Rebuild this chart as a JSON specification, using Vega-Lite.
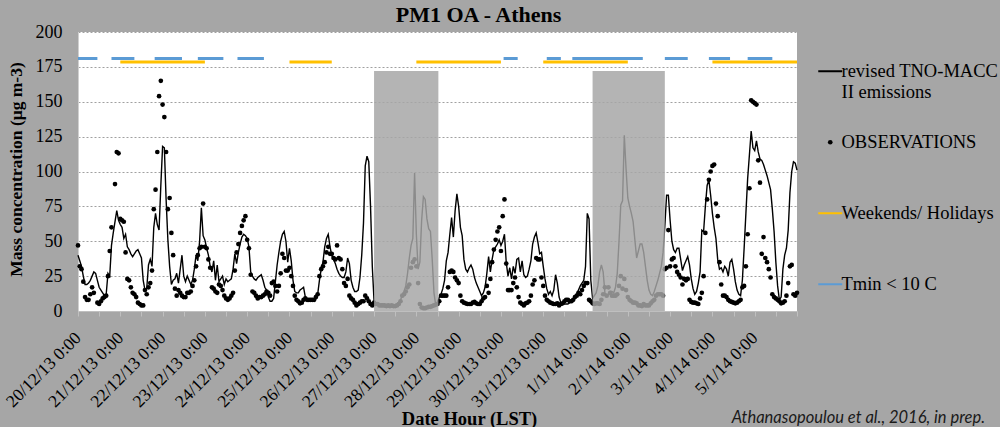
{
"$schema":"https://vega.github.io/schema/vega-lite/v6.json",
"width":719,"height":279,
"autosize":{"type":"none"},
"padding":{"left":78,"top":32,"right":203,"bottom":116},
"background":"#a6a6a6",
"title":{"text":"PM1 OA - Athens","font":"Liberation Serif","fontSize":22,"fontWeight":"bold","color":"black","anchor":"middle","dx":41,"offset":-4},
"datasets":{
"model":[
{"t":"2013-12-20T00:00","v":40},{"t":"2013-12-20T01:00","v":36},{"t":"2013-12-20T02:00","v":32},{"t":"2013-12-20T03:00","v":25},{"t":"2013-12-20T04:00","v":19},{"t":"2013-12-20T05:00","v":19},{"t":"2013-12-20T06:00","v":20},{"t":"2013-12-20T07:00","v":22},{"t":"2013-12-20T08:00","v":25},{"t":"2013-12-20T09:00","v":28},{"t":"2013-12-20T10:00","v":27},{"t":"2013-12-20T11:00","v":22},{"t":"2013-12-20T12:00","v":17},{"t":"2013-12-20T13:00","v":15},{"t":"2013-12-20T14:00","v":13},{"t":"2013-12-20T15:00","v":11},{"t":"2013-12-20T16:00","v":12},{"t":"2013-12-20T17:00","v":27},{"t":"2013-12-20T18:00","v":25},{"t":"2013-12-20T19:00","v":47},{"t":"2013-12-20T20:00","v":56},{"t":"2013-12-20T21:00","v":64},{"t":"2013-12-20T22:00","v":72},{"t":"2013-12-20T23:00","v":65},
{"t":"2013-12-21T00:00","v":62},{"t":"2013-12-21T01:00","v":60},{"t":"2013-12-21T02:00","v":52},{"t":"2013-12-21T03:00","v":55},{"t":"2013-12-21T04:00","v":46},{"t":"2013-12-21T05:00","v":44},{"t":"2013-12-21T06:00","v":41},{"t":"2013-12-21T07:00","v":39},{"t":"2013-12-21T08:00","v":41},{"t":"2013-12-21T09:00","v":43},{"t":"2013-12-21T10:00","v":44},{"t":"2013-12-21T11:00","v":41},{"t":"2013-12-21T12:00","v":38},{"t":"2013-12-21T13:00","v":22},{"t":"2013-12-21T14:00","v":15},{"t":"2013-12-21T15:00","v":16},{"t":"2013-12-21T16:00","v":33},{"t":"2013-12-21T17:00","v":37},{"t":"2013-12-21T18:00","v":32},{"t":"2013-12-21T19:00","v":60},{"t":"2013-12-21T20:00","v":70},{"t":"2013-12-21T21:00","v":62},{"t":"2013-12-21T22:00","v":58},{"t":"2013-12-21T23:00","v":90},
{"t":"2013-12-22T00:00","v":118},{"t":"2013-12-22T01:00","v":117},{"t":"2013-12-22T02:00","v":80},{"t":"2013-12-22T03:00","v":51},{"t":"2013-12-22T04:00","v":32},{"t":"2013-12-22T05:00","v":19},{"t":"2013-12-22T06:00","v":22},{"t":"2013-12-22T07:00","v":23},{"t":"2013-12-22T08:00","v":27},{"t":"2013-12-22T09:00","v":20},{"t":"2013-12-22T10:00","v":30},{"t":"2013-12-22T11:00","v":40},{"t":"2013-12-22T12:00","v":25},{"t":"2013-12-22T13:00","v":21},{"t":"2013-12-22T14:00","v":25},{"t":"2013-12-22T15:00","v":22},{"t":"2013-12-22T16:00","v":19},{"t":"2013-12-22T17:00","v":22},{"t":"2013-12-22T18:00","v":30},{"t":"2013-12-22T19:00","v":40},{"t":"2013-12-22T20:00","v":36},{"t":"2013-12-22T21:00","v":50},{"t":"2013-12-22T22:00","v":74},{"t":"2013-12-22T23:00","v":54},
{"t":"2013-12-23T00:00","v":51},{"t":"2013-12-23T01:00","v":45},{"t":"2013-12-23T02:00","v":40},{"t":"2013-12-23T03:00","v":32},{"t":"2013-12-23T04:00","v":28},{"t":"2013-12-23T05:00","v":36},{"t":"2013-12-23T06:00","v":22},{"t":"2013-12-23T07:00","v":33},{"t":"2013-12-23T08:00","v":21},{"t":"2013-12-23T09:00","v":23},{"t":"2013-12-23T10:00","v":25},{"t":"2013-12-23T11:00","v":19},{"t":"2013-12-23T12:00","v":23},{"t":"2013-12-23T13:00","v":21},{"t":"2013-12-23T14:00","v":22},{"t":"2013-12-23T15:00","v":23},{"t":"2013-12-23T16:00","v":30},{"t":"2013-12-23T17:00","v":41},{"t":"2013-12-23T18:00","v":34},{"t":"2013-12-23T19:00","v":42},{"t":"2013-12-23T20:00","v":48},{"t":"2013-12-23T21:00","v":53},{"t":"2013-12-23T22:00","v":55},{"t":"2013-12-23T23:00","v":54},
{"t":"2013-12-24T00:00","v":52},{"t":"2013-12-24T01:00","v":46},{"t":"2013-12-24T02:00","v":28},{"t":"2013-12-24T03:00","v":25},{"t":"2013-12-24T04:00","v":23},{"t":"2013-12-24T05:00","v":22},{"t":"2013-12-24T06:00","v":24},{"t":"2013-12-24T07:00","v":25},{"t":"2013-12-24T08:00","v":26},{"t":"2013-12-24T09:00","v":22},{"t":"2013-12-24T10:00","v":17},{"t":"2013-12-24T11:00","v":15},{"t":"2013-12-24T12:00","v":10},{"t":"2013-12-24T13:00","v":7},{"t":"2013-12-24T14:00","v":7},{"t":"2013-12-24T15:00","v":9},{"t":"2013-12-24T16:00","v":21},{"t":"2013-12-24T17:00","v":33},{"t":"2013-12-24T18:00","v":42},{"t":"2013-12-24T19:00","v":50},{"t":"2013-12-24T20:00","v":55},{"t":"2013-12-24T21:00","v":57},{"t":"2013-12-24T22:00","v":50},{"t":"2013-12-24T23:00","v":35},
{"t":"2013-12-25T00:00","v":45},{"t":"2013-12-25T01:00","v":36},{"t":"2013-12-25T02:00","v":22},{"t":"2013-12-25T03:00","v":14},{"t":"2013-12-25T04:00","v":13},{"t":"2013-12-25T05:00","v":13},{"t":"2013-12-25T06:00","v":15},{"t":"2013-12-25T07:00","v":16},{"t":"2013-12-25T08:00","v":17},{"t":"2013-12-25T09:00","v":10},{"t":"2013-12-25T10:00","v":9},{"t":"2013-12-25T11:00","v":8},{"t":"2013-12-25T12:00","v":7},{"t":"2013-12-25T13:00","v":7},{"t":"2013-12-25T14:00","v":7},{"t":"2013-12-25T15:00","v":9},{"t":"2013-12-25T16:00","v":12},{"t":"2013-12-25T17:00","v":22},{"t":"2013-12-25T18:00","v":30},{"t":"2013-12-25T19:00","v":35},{"t":"2013-12-25T20:00","v":46},{"t":"2013-12-25T21:00","v":52},{"t":"2013-12-25T22:00","v":55},{"t":"2013-12-25T23:00","v":46},
{"t":"2013-12-26T00:00","v":40},{"t":"2013-12-26T01:00","v":37},{"t":"2013-12-26T02:00","v":34},{"t":"2013-12-26T03:00","v":30},{"t":"2013-12-26T04:00","v":27},{"t":"2013-12-26T05:00","v":25},{"t":"2013-12-26T06:00","v":24},{"t":"2013-12-26T07:00","v":24},{"t":"2013-12-26T08:00","v":28},{"t":"2013-12-26T09:00","v":38},{"t":"2013-12-26T10:00","v":34},{"t":"2013-12-26T11:00","v":22},{"t":"2013-12-26T12:00","v":17},{"t":"2013-12-26T13:00","v":14},{"t":"2013-12-26T14:00","v":14},{"t":"2013-12-26T15:00","v":15},{"t":"2013-12-26T16:00","v":24},{"t":"2013-12-26T17:00","v":40},{"t":"2013-12-26T18:00","v":63},{"t":"2013-12-26T19:00","v":104},{"t":"2013-12-26T20:00","v":111},{"t":"2013-12-26T21:00","v":107},{"t":"2013-12-26T22:00","v":75},{"t":"2013-12-26T23:00","v":32},
{"t":"2013-12-27T00:00","v":7},{"t":"2013-12-27T01:00","v":5},{"t":"2013-12-27T02:00","v":4},{"t":"2013-12-27T04:00","v":4},{"t":"2013-12-27T06:00","v":3},{"t":"2013-12-27T08:00","v":3},{"t":"2013-12-27T10:00","v":3},{"t":"2013-12-27T12:00","v":4},{"t":"2013-12-27T13:00","v":5},{"t":"2013-12-27T14:00","v":6},{"t":"2013-12-27T15:00","v":8},{"t":"2013-12-27T16:00","v":11},{"t":"2013-12-27T17:00","v":14},{"t":"2013-12-27T18:00","v":18},{"t":"2013-12-27T19:00","v":27},{"t":"2013-12-27T20:00","v":38},{"t":"2013-12-27T21:00","v":47},{"t":"2013-12-27T22:00","v":52},{"t":"2013-12-27T23:00","v":99},
{"t":"2013-12-28T00:00","v":55},{"t":"2013-12-28T01:00","v":30},{"t":"2013-12-28T02:00","v":35},{"t":"2013-12-28T03:00","v":65},{"t":"2013-12-28T04:00","v":82},{"t":"2013-12-28T05:00","v":80},{"t":"2013-12-28T06:00","v":66},{"t":"2013-12-28T07:00","v":59},{"t":"2013-12-28T08:00","v":57},{"t":"2013-12-28T09:00","v":37},{"t":"2013-12-28T10:00","v":13},{"t":"2013-12-28T11:00","v":4},{"t":"2013-12-28T12:00","v":4},{"t":"2013-12-28T13:00","v":10},{"t":"2013-12-28T14:00","v":12},{"t":"2013-12-28T15:00","v":16},{"t":"2013-12-28T16:00","v":22},{"t":"2013-12-28T17:00","v":36},{"t":"2013-12-28T18:00","v":42},{"t":"2013-12-28T19:00","v":55},{"t":"2013-12-28T20:00","v":67},{"t":"2013-12-28T21:00","v":53},{"t":"2013-12-28T22:00","v":72},{"t":"2013-12-28T23:00","v":84},
{"t":"2013-12-29T00:00","v":75},{"t":"2013-12-29T01:00","v":60},{"t":"2013-12-29T02:00","v":54},{"t":"2013-12-29T03:00","v":37},{"t":"2013-12-29T04:00","v":30},{"t":"2013-12-29T05:00","v":28},{"t":"2013-12-29T06:00","v":31},{"t":"2013-12-29T07:00","v":33},{"t":"2013-12-29T08:00","v":30},{"t":"2013-12-29T09:00","v":24},{"t":"2013-12-29T10:00","v":20},{"t":"2013-12-29T11:00","v":17},{"t":"2013-12-29T12:00","v":14},{"t":"2013-12-29T13:00","v":11},{"t":"2013-12-29T14:00","v":13},{"t":"2013-12-29T15:00","v":17},{"t":"2013-12-29T16:00","v":27},{"t":"2013-12-29T17:00","v":39},{"t":"2013-12-29T18:00","v":28},{"t":"2013-12-29T19:00","v":37},{"t":"2013-12-29T20:00","v":44},{"t":"2013-12-29T21:00","v":46},{"t":"2013-12-29T22:00","v":48},{"t":"2013-12-29T23:00","v":51},
{"t":"2013-12-30T00:00","v":47},{"t":"2013-12-30T01:00","v":50},{"t":"2013-12-30T02:00","v":55},{"t":"2013-12-30T03:00","v":35},{"t":"2013-12-30T04:00","v":25},{"t":"2013-12-30T05:00","v":31},{"t":"2013-12-30T06:00","v":23},{"t":"2013-12-30T07:00","v":32},{"t":"2013-12-30T08:00","v":27},{"t":"2013-12-30T09:00","v":37},{"t":"2013-12-30T10:00","v":38},{"t":"2013-12-30T11:00","v":28},{"t":"2013-12-30T12:00","v":36},{"t":"2013-12-30T13:00","v":26},{"t":"2013-12-30T14:00","v":24},{"t":"2013-12-30T15:00","v":25},{"t":"2013-12-30T16:00","v":30},{"t":"2013-12-30T17:00","v":36},{"t":"2013-12-30T18:00","v":48},{"t":"2013-12-30T19:00","v":53},{"t":"2013-12-30T20:00","v":56},{"t":"2013-12-30T21:00","v":49},{"t":"2013-12-30T22:00","v":41},{"t":"2013-12-30T23:00","v":42},
{"t":"2013-12-31T00:00","v":32},{"t":"2013-12-31T01:00","v":23},{"t":"2013-12-31T02:00","v":16},{"t":"2013-12-31T03:00","v":12},{"t":"2013-12-31T04:00","v":14},{"t":"2013-12-31T05:00","v":11},{"t":"2013-12-31T06:00","v":15},{"t":"2013-12-31T07:00","v":26},{"t":"2013-12-31T08:00","v":20},{"t":"2013-12-31T09:00","v":10},{"t":"2013-12-31T10:00","v":6},{"t":"2013-12-31T11:00","v":5},{"t":"2013-12-31T12:00","v":5},{"t":"2013-12-31T13:00","v":5},{"t":"2013-12-31T14:00","v":5},{"t":"2013-12-31T15:00","v":6},{"t":"2013-12-31T16:00","v":7},{"t":"2013-12-31T17:00","v":8},{"t":"2013-12-31T18:00","v":10},{"t":"2013-12-31T19:00","v":12},{"t":"2013-12-31T20:00","v":15},{"t":"2013-12-31T21:00","v":18},{"t":"2013-12-31T22:00","v":20},{"t":"2013-12-31T23:00","v":22},
{"t":"2014-01-01T00:00","v":32},{"t":"2014-01-01T01:00","v":70},{"t":"2014-01-01T02:00","v":66},{"t":"2014-01-01T03:00","v":22},{"t":"2014-01-01T04:00","v":9},{"t":"2014-01-01T05:00","v":11},{"t":"2014-01-01T06:00","v":13},{"t":"2014-01-01T07:00","v":18},{"t":"2014-01-01T08:00","v":28},{"t":"2014-01-01T09:00","v":33},{"t":"2014-01-01T10:00","v":28},{"t":"2014-01-01T11:00","v":13},{"t":"2014-01-01T12:00","v":11},{"t":"2014-01-01T13:00","v":12},{"t":"2014-01-01T14:00","v":14},{"t":"2014-01-01T15:00","v":14},{"t":"2014-01-01T16:00","v":13},{"t":"2014-01-01T17:00","v":17},{"t":"2014-01-01T18:00","v":27},{"t":"2014-01-01T19:00","v":50},{"t":"2014-01-01T20:00","v":76},{"t":"2014-01-01T21:00","v":79},{"t":"2014-01-01T22:00","v":126},{"t":"2014-01-01T23:00","v":102},
{"t":"2014-01-02T00:00","v":81},{"t":"2014-01-02T01:00","v":75},{"t":"2014-01-02T02:00","v":70},{"t":"2014-01-02T03:00","v":64},{"t":"2014-01-02T04:00","v":51},{"t":"2014-01-02T05:00","v":38},{"t":"2014-01-02T06:00","v":43},{"t":"2014-01-02T07:00","v":48},{"t":"2014-01-02T08:00","v":48},{"t":"2014-01-02T09:00","v":42},{"t":"2014-01-02T10:00","v":32},{"t":"2014-01-02T11:00","v":22},{"t":"2014-01-02T12:00","v":15},{"t":"2014-01-02T13:00","v":12},{"t":"2014-01-02T14:00","v":11},{"t":"2014-01-02T15:00","v":14},{"t":"2014-01-02T16:00","v":18},{"t":"2014-01-02T17:00","v":22},{"t":"2014-01-02T18:00","v":27},{"t":"2014-01-02T19:00","v":32},{"t":"2014-01-02T20:00","v":42},{"t":"2014-01-02T21:00","v":61},{"t":"2014-01-02T22:00","v":83},{"t":"2014-01-02T23:00","v":83},
{"t":"2014-01-03T00:00","v":65},{"t":"2014-01-03T01:00","v":50},{"t":"2014-01-03T02:00","v":44},{"t":"2014-01-03T03:00","v":42},{"t":"2014-01-03T04:00","v":45},{"t":"2014-01-03T05:00","v":45},{"t":"2014-01-03T06:00","v":37},{"t":"2014-01-03T07:00","v":29},{"t":"2014-01-03T08:00","v":33},{"t":"2014-01-03T09:00","v":36},{"t":"2014-01-03T10:00","v":39},{"t":"2014-01-03T11:00","v":33},{"t":"2014-01-03T12:00","v":23},{"t":"2014-01-03T13:00","v":16},{"t":"2014-01-03T14:00","v":12},{"t":"2014-01-03T15:00","v":14},{"t":"2014-01-03T16:00","v":20},{"t":"2014-01-03T17:00","v":28},{"t":"2014-01-03T18:00","v":58},{"t":"2014-01-03T19:00","v":57},{"t":"2014-01-03T20:00","v":75},{"t":"2014-01-03T21:00","v":90},{"t":"2014-01-03T22:00","v":94},{"t":"2014-01-03T23:00","v":83},
{"t":"2014-01-04T00:00","v":70},{"t":"2014-01-04T01:00","v":60},{"t":"2014-01-04T02:00","v":52},{"t":"2014-01-04T03:00","v":37},{"t":"2014-01-04T04:00","v":30},{"t":"2014-01-04T05:00","v":31},{"t":"2014-01-04T06:00","v":28},{"t":"2014-01-04T07:00","v":32},{"t":"2014-01-04T08:00","v":30},{"t":"2014-01-04T09:00","v":25},{"t":"2014-01-04T10:00","v":35},{"t":"2014-01-04T11:00","v":37},{"t":"2014-01-04T12:00","v":30},{"t":"2014-01-04T13:00","v":21},{"t":"2014-01-04T14:00","v":15},{"t":"2014-01-04T15:00","v":12},{"t":"2014-01-04T16:00","v":11},{"t":"2014-01-04T17:00","v":22},{"t":"2014-01-04T18:00","v":45},{"t":"2014-01-04T19:00","v":70},{"t":"2014-01-04T20:00","v":95},{"t":"2014-01-04T21:00","v":112},{"t":"2014-01-04T22:00","v":129},{"t":"2014-01-04T23:00","v":117},
{"t":"2014-01-05T00:00","v":115},{"t":"2014-01-05T01:00","v":122},{"t":"2014-01-05T02:00","v":114},{"t":"2014-01-05T03:00","v":109},{"t":"2014-01-05T04:00","v":108},{"t":"2014-01-05T05:00","v":105},{"t":"2014-01-05T06:00","v":101},{"t":"2014-01-05T07:00","v":97},{"t":"2014-01-05T08:00","v":92},{"t":"2014-01-05T09:00","v":87},{"t":"2014-01-05T10:00","v":73},{"t":"2014-01-05T11:00","v":57},{"t":"2014-01-05T12:00","v":35},{"t":"2014-01-05T13:00","v":18},{"t":"2014-01-05T14:00","v":8},{"t":"2014-01-05T15:00","v":10},{"t":"2014-01-05T16:00","v":30},{"t":"2014-01-05T17:00","v":40},{"t":"2014-01-05T18:00","v":45},{"t":"2014-01-05T19:00","v":58},{"t":"2014-01-05T20:00","v":85},{"t":"2014-01-05T21:00","v":100},{"t":"2014-01-05T22:00","v":107},{"t":"2014-01-05T23:00","v":106},
{"t":"2014-01-06T00:00","v":101}
],
"obs":[
{"t":"2013-12-20T00:00","v":47},{"t":"2013-12-20T01:00","v":32},{"t":"2013-12-20T02:00","v":30},{"t":"2013-12-20T03:00","v":21},{"t":"2013-12-20T04:00","v":10},{"t":"2013-12-20T05:00","v":8},{"t":"2013-12-20T06:00","v":8},{"t":"2013-12-20T07:00","v":12},{"t":"2013-12-20T08:00","v":17},{"t":"2013-12-20T09:00","v":13},{"t":"2013-12-20T11:00","v":6},{"t":"2013-12-20T12:00","v":5},{"t":"2013-12-20T13:00","v":7},{"t":"2013-12-20T14:00","v":9},{"t":"2013-12-20T15:00","v":10},{"t":"2013-12-20T16:00","v":11},{"t":"2013-12-20T17:00","v":25},{"t":"2013-12-20T18:00","v":43},{"t":"2013-12-20T19:00","v":60},{"t":"2013-12-20T21:00","v":91},{"t":"2013-12-20T22:00","v":114},{"t":"2013-12-20T23:00","v":113},
{"t":"2013-12-21T00:00","v":66},{"t":"2013-12-21T01:00","v":65},{"t":"2013-12-21T02:00","v":64},{"t":"2013-12-21T03:00","v":42},{"t":"2013-12-21T04:00","v":23},{"t":"2013-12-21T05:00","v":22},{"t":"2013-12-21T06:00","v":17},{"t":"2013-12-21T07:00","v":13},{"t":"2013-12-21T08:00","v":12},{"t":"2013-12-21T09:00","v":10},{"t":"2013-12-21T10:00","v":6},{"t":"2013-12-21T11:00","v":5},{"t":"2013-12-21T12:00","v":4},{"t":"2013-12-21T13:00","v":4},{"t":"2013-12-21T14:00","v":15},{"t":"2013-12-21T15:00","v":12},{"t":"2013-12-21T16:00","v":17},{"t":"2013-12-21T17:00","v":20},{"t":"2013-12-21T18:00","v":29},{"t":"2013-12-21T19:00","v":73},{"t":"2013-12-21T20:00","v":87},{"t":"2013-12-21T21:00","v":114},{"t":"2013-12-21T22:00","v":154},{"t":"2013-12-21T23:00","v":165},
{"t":"2013-12-22T00:00","v":148},{"t":"2013-12-22T01:00","v":139},{"t":"2013-12-22T02:00","v":114},{"t":"2013-12-22T03:00","v":73},{"t":"2013-12-22T04:00","v":81},{"t":"2013-12-22T05:00","v":56},{"t":"2013-12-22T06:00","v":40},{"t":"2013-12-22T07:00","v":16},{"t":"2013-12-22T08:00","v":11},{"t":"2013-12-22T09:00","v":15},{"t":"2013-12-22T10:00","v":13},{"t":"2013-12-22T11:00","v":11},{"t":"2013-12-22T12:00","v":10},{"t":"2013-12-22T13:00","v":10},{"t":"2013-12-22T14:00","v":13},{"t":"2013-12-22T15:00","v":13},{"t":"2013-12-22T16:00","v":14},{"t":"2013-12-22T17:00","v":18},{"t":"2013-12-22T18:00","v":22},{"t":"2013-12-22T19:00","v":32},{"t":"2013-12-22T20:00","v":40},{"t":"2013-12-22T21:00","v":45},{"t":"2013-12-22T22:00","v":46},{"t":"2013-12-22T23:00","v":77},
{"t":"2013-12-23T00:00","v":46},{"t":"2013-12-23T01:00","v":45},{"t":"2013-12-23T02:00","v":37},{"t":"2013-12-23T03:00","v":31},{"t":"2013-12-23T04:00","v":17},{"t":"2013-12-23T05:00","v":16},{"t":"2013-12-23T06:00","v":14},{"t":"2013-12-23T07:00","v":13},{"t":"2013-12-23T08:00","v":19},{"t":"2013-12-23T09:00","v":18},{"t":"2013-12-23T10:00","v":15},{"t":"2013-12-23T11:00","v":11},{"t":"2013-12-23T12:00","v":9},{"t":"2013-12-23T13:00","v":8},{"t":"2013-12-23T14:00","v":9},{"t":"2013-12-23T15:00","v":11},{"t":"2013-12-23T16:00","v":13},{"t":"2013-12-23T17:00","v":29},{"t":"2013-12-23T18:00","v":42},{"t":"2013-12-23T19:00","v":48},{"t":"2013-12-23T20:00","v":56},{"t":"2013-12-23T21:00","v":61},{"t":"2013-12-23T22:00","v":65},{"t":"2013-12-23T23:00","v":68},
{"t":"2013-12-24T00:00","v":51},{"t":"2013-12-24T01:00","v":45},{"t":"2013-12-24T02:00","v":26},{"t":"2013-12-24T03:00","v":14},{"t":"2013-12-24T04:00","v":13},{"t":"2013-12-24T05:00","v":11},{"t":"2013-12-24T06:00","v":9},{"t":"2013-12-24T07:00","v":10},{"t":"2013-12-24T08:00","v":10},{"t":"2013-12-24T09:00","v":11},{"t":"2013-12-24T10:00","v":12},{"t":"2013-12-24T11:00","v":14},{"t":"2013-12-24T12:00","v":13},{"t":"2013-12-24T13:00","v":11},{"t":"2013-12-24T14:00","v":20},{"t":"2013-12-24T15:00","v":21},{"t":"2013-12-24T16:00","v":18},{"t":"2013-12-24T17:00","v":14},{"t":"2013-12-24T18:00","v":18},{"t":"2013-12-24T19:00","v":27},{"t":"2013-12-24T20:00","v":41},{"t":"2013-12-24T21:00","v":38},{"t":"2013-12-24T22:00","v":29},{"t":"2013-12-24T23:00","v":29},
{"t":"2013-12-25T00:00","v":31},{"t":"2013-12-25T01:00","v":25},{"t":"2013-12-25T02:00","v":18},{"t":"2013-12-25T03:00","v":11},{"t":"2013-12-25T04:00","v":8},{"t":"2013-12-25T05:00","v":7},{"t":"2013-12-25T06:00","v":5.5},{"t":"2013-12-25T07:00","v":6},{"t":"2013-12-25T08:00","v":8},{"t":"2013-12-25T09:00","v":9},{"t":"2013-12-25T10:00","v":8},{"t":"2013-12-25T11:00","v":8},{"t":"2013-12-25T12:00","v":8},{"t":"2013-12-25T13:00","v":8},{"t":"2013-12-25T14:00","v":8},{"t":"2013-12-25T15:00","v":10},{"t":"2013-12-25T16:00","v":12},{"t":"2013-12-25T17:00","v":25},{"t":"2013-12-25T18:00","v":30},{"t":"2013-12-25T19:00","v":32},{"t":"2013-12-25T20:00","v":35},{"t":"2013-12-25T21:00","v":42},{"t":"2013-12-25T22:00","v":46},{"t":"2013-12-25T23:00","v":41},
{"t":"2013-12-26T00:00","v":41},{"t":"2013-12-26T01:00","v":38},{"t":"2013-12-26T02:00","v":37},{"t":"2013-12-26T03:00","v":47},{"t":"2013-12-26T04:00","v":38},{"t":"2013-12-26T05:00","v":37},{"t":"2013-12-26T06:00","v":30},{"t":"2013-12-26T07:00","v":20},{"t":"2013-12-26T08:00","v":18},{"t":"2013-12-26T09:00","v":23},{"t":"2013-12-26T10:00","v":11},{"t":"2013-12-26T11:00","v":9},{"t":"2013-12-26T12:00","v":8},{"t":"2013-12-26T13:00","v":6},{"t":"2013-12-26T14:00","v":4},{"t":"2013-12-26T15:00","v":5},{"t":"2013-12-26T16:00","v":6},{"t":"2013-12-26T17:00","v":7},{"t":"2013-12-26T18:00","v":7},{"t":"2013-12-26T19:00","v":11},{"t":"2013-12-26T20:00","v":9},{"t":"2013-12-26T21:00","v":7},{"t":"2013-12-26T22:00","v":5},{"t":"2013-12-26T23:00","v":4},
{"t":"2013-12-27T00:00","v":6},{"t":"2013-12-27T01:00","v":5},{"t":"2013-12-27T02:00","v":5},{"t":"2013-12-27T03:00","v":4},{"t":"2013-12-27T04:00","v":4},{"t":"2013-12-27T05:00","v":4},{"t":"2013-12-27T06:00","v":4},{"t":"2013-12-27T07:00","v":3.5},{"t":"2013-12-27T08:00","v":4},{"t":"2013-12-27T09:00","v":3.5},{"t":"2013-12-27T10:00","v":4},{"t":"2013-12-27T11:00","v":3.5},{"t":"2013-12-27T12:00","v":3.5},{"t":"2013-12-27T13:00","v":4},{"t":"2013-12-27T14:00","v":5},{"t":"2013-12-27T15:00","v":7},{"t":"2013-12-27T16:00","v":11},{"t":"2013-12-27T17:00","v":12},{"t":"2013-12-27T18:00","v":14},{"t":"2013-12-27T19:00","v":17},{"t":"2013-12-27T20:00","v":19},{"t":"2013-12-27T21:00","v":31},{"t":"2013-12-27T22:00","v":35},{"t":"2013-12-27T23:00","v":37},
{"t":"2013-12-28T00:00","v":32},{"t":"2013-12-28T01:00","v":20},{"t":"2013-12-28T02:00","v":5},{"t":"2013-12-28T03:00","v":2.5},{"t":"2013-12-28T04:00","v":2},{"t":"2013-12-28T05:00","v":2},{"t":"2013-12-28T06:00","v":2.5},{"t":"2013-12-28T07:00","v":3},{"t":"2013-12-28T08:00","v":3},{"t":"2013-12-28T09:00","v":3.5},{"t":"2013-12-28T10:00","v":4},{"t":"2013-12-28T11:00","v":4.5},{"t":"2013-12-28T12:00","v":5},{"t":"2013-12-28T13:00","v":7},{"t":"2013-12-28T14:00","v":11},{"t":"2013-12-28T15:00","v":11},{"t":"2013-12-28T16:00","v":11},{"t":"2013-12-28T17:00","v":11},{"t":"2013-12-28T18:00","v":17},{"t":"2013-12-28T19:00","v":28},{"t":"2013-12-28T20:00","v":29},{"t":"2013-12-28T21:00","v":28},{"t":"2013-12-28T22:00","v":24},{"t":"2013-12-28T23:00","v":22},
{"t":"2013-12-29T00:00","v":20},{"t":"2013-12-29T01:00","v":11},{"t":"2013-12-29T02:00","v":7},{"t":"2013-12-29T03:00","v":6},{"t":"2013-12-29T04:00","v":5.5},{"t":"2013-12-29T05:00","v":5},{"t":"2013-12-29T06:00","v":5},{"t":"2013-12-29T07:00","v":5},{"t":"2013-12-29T08:00","v":6},{"t":"2013-12-29T09:00","v":6.5},{"t":"2013-12-29T10:00","v":5.5},{"t":"2013-12-29T11:00","v":5},{"t":"2013-12-29T12:00","v":5},{"t":"2013-12-29T13:00","v":7},{"t":"2013-12-29T14:00","v":9},{"t":"2013-12-29T15:00","v":10},{"t":"2013-12-29T16:00","v":18},{"t":"2013-12-29T17:00","v":13},{"t":"2013-12-29T18:00","v":23},{"t":"2013-12-29T19:00","v":35},{"t":"2013-12-29T20:00","v":44},{"t":"2013-12-29T21:00","v":51},{"t":"2013-12-29T22:00","v":57},{"t":"2013-12-29T23:00","v":60},
{"t":"2013-12-30T00:00","v":43},{"t":"2013-12-30T01:00","v":68},{"t":"2013-12-30T02:00","v":80},{"t":"2013-12-30T03:00","v":34},{"t":"2013-12-30T04:00","v":15},{"t":"2013-12-30T05:00","v":15},{"t":"2013-12-30T06:00","v":15},{"t":"2013-12-30T07:00","v":20},{"t":"2013-12-30T08:00","v":24},{"t":"2013-12-30T09:00","v":17},{"t":"2013-12-30T10:00","v":10},{"t":"2013-12-30T11:00","v":6},{"t":"2013-12-30T12:00","v":5},{"t":"2013-12-30T13:00","v":4},{"t":"2013-12-30T14:00","v":5.5},{"t":"2013-12-30T15:00","v":6},{"t":"2013-12-30T16:00","v":7},{"t":"2013-12-30T17:00","v":11},{"t":"2013-12-30T18:00","v":19},{"t":"2013-12-30T19:00","v":22},{"t":"2013-12-30T20:00","v":38},{"t":"2013-12-30T21:00","v":37},{"t":"2013-12-30T22:00","v":37},{"t":"2013-12-30T23:00","v":24},
{"t":"2013-12-31T00:00","v":18},{"t":"2013-12-31T01:00","v":11},{"t":"2013-12-31T02:00","v":8},{"t":"2013-12-31T03:00","v":7},{"t":"2013-12-31T04:00","v":6},{"t":"2013-12-31T05:00","v":5.5},{"t":"2013-12-31T06:00","v":5},{"t":"2013-12-31T07:00","v":5},{"t":"2013-12-31T08:00","v":5.5},{"t":"2013-12-31T09:00","v":4},{"t":"2013-12-31T10:00","v":5},{"t":"2013-12-31T11:00","v":5.5},{"t":"2013-12-31T12:00","v":7},{"t":"2013-12-31T13:00","v":8},{"t":"2013-12-31T14:00","v":8},{"t":"2013-12-31T15:00","v":7},{"t":"2013-12-31T16:00","v":7},{"t":"2013-12-31T17:00","v":8},{"t":"2013-12-31T18:00","v":10},{"t":"2013-12-31T19:00","v":11},{"t":"2013-12-31T20:00","v":13},{"t":"2013-12-31T21:00","v":12},{"t":"2013-12-31T22:00","v":15},{"t":"2013-12-31T23:00","v":18},
{"t":"2014-01-01T00:00","v":20},{"t":"2014-01-01T01:00","v":20},{"t":"2014-01-01T02:00","v":8},{"t":"2014-01-01T03:00","v":7},{"t":"2014-01-01T04:00","v":5.5},{"t":"2014-01-01T05:00","v":5},{"t":"2014-01-01T06:00","v":5.5},{"t":"2014-01-01T07:00","v":5.5},{"t":"2014-01-01T08:00","v":5},{"t":"2014-01-01T09:00","v":8},{"t":"2014-01-01T10:00","v":12},{"t":"2014-01-01T11:00","v":17},{"t":"2014-01-01T12:00","v":11},{"t":"2014-01-01T13:00","v":17},{"t":"2014-01-01T14:00","v":13},{"t":"2014-01-01T15:00","v":11},{"t":"2014-01-01T16:00","v":11},{"t":"2014-01-01T17:00","v":11},{"t":"2014-01-01T18:00","v":12},{"t":"2014-01-01T19:00","v":18},{"t":"2014-01-01T20:00","v":25},{"t":"2014-01-01T21:00","v":16},{"t":"2014-01-01T22:00","v":23},{"t":"2014-01-01T23:00","v":15},
{"t":"2014-01-02T00:00","v":10},{"t":"2014-01-02T01:00","v":8},{"t":"2014-01-02T02:00","v":7},{"t":"2014-01-02T03:00","v":6},{"t":"2014-01-02T04:00","v":6},{"t":"2014-01-02T05:00","v":5.5},{"t":"2014-01-02T06:00","v":4},{"t":"2014-01-02T07:00","v":4},{"t":"2014-01-02T08:00","v":3.5},{"t":"2014-01-02T09:00","v":5},{"t":"2014-01-02T10:00","v":4},{"t":"2014-01-02T11:00","v":4},{"t":"2014-01-02T12:00","v":4},{"t":"2014-01-02T13:00","v":5.5},{"t":"2014-01-02T14:00","v":7},{"t":"2014-01-02T15:00","v":8},{"t":"2014-01-02T16:00","v":11},{"t":"2014-01-02T17:00","v":12},{"t":"2014-01-02T18:00","v":12},{"t":"2014-01-02T19:00","v":12},{"t":"2014-01-02T20:00","v":11},{"t":"2014-01-02T21:00","v":30},{"t":"2014-01-02T22:00","v":31},{"t":"2014-01-02T23:00","v":58},
{"t":"2014-01-03T00:00","v":32},{"t":"2014-01-03T01:00","v":37},{"t":"2014-01-03T02:00","v":38},{"t":"2014-01-03T03:00","v":32},{"t":"2014-01-03T04:00","v":28},{"t":"2014-01-03T05:00","v":26},{"t":"2014-01-03T06:00","v":24},{"t":"2014-01-03T07:00","v":19},{"t":"2014-01-03T08:00","v":23},{"t":"2014-01-03T09:00","v":22},{"t":"2014-01-03T10:00","v":23},{"t":"2014-01-03T11:00","v":8},{"t":"2014-01-03T12:00","v":6.5},{"t":"2014-01-03T13:00","v":6},{"t":"2014-01-03T14:00","v":6},{"t":"2014-01-03T15:00","v":5.5},{"t":"2014-01-03T16:00","v":5},{"t":"2014-01-03T17:00","v":9},{"t":"2014-01-03T18:00","v":13},{"t":"2014-01-03T19:00","v":25},{"t":"2014-01-03T20:00","v":56},{"t":"2014-01-03T21:00","v":80},{"t":"2014-01-03T22:00","v":94},{"t":"2014-01-03T23:00","v":100},
{"t":"2014-01-04T00:00","v":104},{"t":"2014-01-04T01:00","v":105},{"t":"2014-01-04T02:00","v":77},{"t":"2014-01-04T03:00","v":68},{"t":"2014-01-04T04:00","v":35},{"t":"2014-01-04T05:00","v":19},{"t":"2014-01-04T06:00","v":11},{"t":"2014-01-04T07:00","v":11},{"t":"2014-01-04T08:00","v":10},{"t":"2014-01-04T09:00","v":8},{"t":"2014-01-04T10:00","v":7},{"t":"2014-01-04T11:00","v":6.5},{"t":"2014-01-04T12:00","v":6},{"t":"2014-01-04T13:00","v":5.5},{"t":"2014-01-04T14:00","v":6},{"t":"2014-01-04T15:00","v":7},{"t":"2014-01-04T16:00","v":8},{"t":"2014-01-04T17:00","v":17},{"t":"2014-01-04T18:00","v":18},{"t":"2014-01-04T19:00","v":32},{"t":"2014-01-04T20:00","v":55},{"t":"2014-01-04T21:00","v":88},{"t":"2014-01-04T22:00","v":151},{"t":"2014-01-04T23:00","v":150},
{"t":"2014-01-05T00:00","v":149},{"t":"2014-01-05T01:00","v":148},{"t":"2014-01-05T02:00","v":108},{"t":"2014-01-05T03:00","v":92},{"t":"2014-01-05T04:00","v":41},{"t":"2014-01-05T05:00","v":53},{"t":"2014-01-05T06:00","v":38},{"t":"2014-01-05T07:00","v":35},{"t":"2014-01-05T08:00","v":30},{"t":"2014-01-05T09:00","v":24},{"t":"2014-01-05T10:00","v":12},{"t":"2014-01-05T11:00","v":10},{"t":"2014-01-05T12:00","v":9},{"t":"2014-01-05T13:00","v":8},{"t":"2014-01-05T14:00","v":7},{"t":"2014-01-05T15:00","v":5.5},{"t":"2014-01-05T16:00","v":6},{"t":"2014-01-05T17:00","v":7},{"t":"2014-01-05T18:00","v":11},{"t":"2014-01-05T19:00","v":20},{"t":"2014-01-05T20:00","v":32},{"t":"2014-01-05T21:00","v":33},{"t":"2014-01-05T22:00","v":12},{"t":"2014-01-05T23:00","v":11},
{"t":"2014-01-06T00:00","v":13}
],
"shade":[{"s":"2013-12-27T00:00","e":"2013-12-28T12:30"},{"s":"2014-01-01T04:00","e":"2014-01-02T21:00"}],
"wk":[{"s":"2013-12-21T00:00","e":"2013-12-23T00:00"},{"s":"2013-12-25T00:00","e":"2013-12-26T00:00"},{"s":"2013-12-28T00:00","e":"2013-12-30T00:00"},{"s":"2013-12-31T00:00","e":"2014-01-02T00:00"},{"s":"2014-01-04T00:00","e":"2014-01-06T00:00"}],
"tmin":[{"s":"2013-12-20T00:00","e":"2013-12-20T11:00"},{"s":"2013-12-20T19:00","e":"2013-12-21T08:00"},{"s":"2013-12-21T19:30","e":"2013-12-22T11:00"},{"s":"2013-12-22T20:00","e":"2013-12-23T10:30"},{"s":"2013-12-23T18:30","e":"2013-12-24T09:30"},{"s":"2013-12-30T01:30","e":"2013-12-30T09:30"},{"s":"2013-12-31T02:00","e":"2013-12-31T10:00"},{"s":"2013-12-31T16:30","e":"2014-01-02T08:30"},{"s":"2014-01-02T21:00","e":"2014-01-03T10:00"},{"s":"2014-01-03T22:00","e":"2014-01-04T10:00"},{"s":"2014-01-04T20:00","e":"2014-01-05T10:00"}]
},
"resolve":{"axis":{"x":"independent","y":"independent"}},
"layer":[
{"data":{"name":"model"},
 "mark":{"type":"line","strokeWidth":1.4},
 "encoding":{
  "x":{"field":"t","type":"temporal","title":"Date Hour (LST)",
   "scale":{"domain":[{"year":2013,"month":12,"date":20,"hours":0},{"year":2014,"month":1,"date":6,"hours":0}]},
   "axis":{"values":[{"year":2013,"month":12,"date":20},{"year":2013,"month":12,"date":21},{"year":2013,"month":12,"date":22},{"year":2013,"month":12,"date":23},{"year":2013,"month":12,"date":24},{"year":2013,"month":12,"date":25},{"year":2013,"month":12,"date":26},{"year":2013,"month":12,"date":27},{"year":2013,"month":12,"date":28},{"year":2013,"month":12,"date":29},{"year":2013,"month":12,"date":30},{"year":2013,"month":12,"date":31},{"year":2014,"month":1,"date":1},{"year":2014,"month":1,"date":2},{"year":2014,"month":1,"date":3},{"year":2014,"month":1,"date":4},{"year":2014,"month":1,"date":5}],
    "format":"%-d/%-m/%y %-H:%M",
    "labelAngle":-45,"labelAlign":"right","labelBaseline":"middle","labelFont":"Liberation Serif","labelFontSize":17.5,"labelColor":"black",
    "labelPadding":19,"labelOverlap":false,"labelFlush":false,"labelBound":false,
    "tickSize":5,"tickColor":"#bfbfbf","domainColor":"#bfbfbf","grid":false,
    "titleFont":"Liberation Serif","titleFontSize":18.5,"titleFontWeight":"bold","titleColor":"black",
    "titleX":391,"titleY":113,"titleAlign":"center","titleBaseline":"alphabetic"}},
  "y":{"field":"v","type":"quantitative","title":"Mass concentration (μg m-3)",
   "scale":{"domain":[0,200],"nice":false},
   "axis":{"values":[0,25,50,75,100,125,150,175,200],"labelFont":"Liberation Serif","labelFontSize":18,"labelColor":"black","labelPadding":16,"ticks":false,
    "domain":true,"domainColor":"#d0d0d0","grid":true,"gridColor":"#a0a0a0","gridDash":[2,2],"gridWidth":1,
    "titleFont":"Liberation Serif","titleFontSize":17.5,"titleFontWeight":"bold","titleColor":"black",
    "titleX":-61.5,"titleY":137,"titleAlign":"center","titleBaseline":"middle","titleAngle":-90}},
  "color":{"datum":"revised TNO-MACC II emissions",
   "scale":{"domain":["revised TNO-MACC II emissions","OBSERVATIONS","Weekends/ Holidays","Tmin < 10 C"],"range":["black","black","#ffc000","#5b9bd5"]},
   "legend":{"orient":"none","legendX":654,"legendY":30,"direction":"vertical","padding":0,
    "symbolSize":576,"symbolStrokeWidth":2,
    "labelFont":"Liberation Serif","labelFontSize":18.5,"labelColor":"black","labelLimit":0,"labelOffset":2,"labelBaseline":"middle",
    "labelExpr":"datum.value === 'revised TNO-MACC II emissions' ? ['revised TNO-MACC', 'II emissions'] : [datum.label, '']",
    "rowPadding":31,
    "title":"Athanasopoulou et al., 2016, in prep.","titleOrient":"bottom","titleAnchor":"end",
    "titleFont":"Lato","titleFontSize":16.5,"titleFontStyle":"italic","titleFontWeight":"normal","titleColor":"#1a1a1a","titlePadding":95,"titleLimit":0,
    "encode":{
     "title":{"update":{"dx":{"value":-13}}},
     "symbols":{"update":{
      "shape":{"signal":"datum.value === 'OBSERVATIONS' ? 'circle' : 'stroke'"},
      "size":{"signal":"datum.value === 'OBSERVATIONS' ? 22 : 576"},
      "fill":{"signal":"datum.value === 'OBSERVATIONS' ? 'black' : 'transparent'"},
      "stroke":{"scale":"color","field":"value"},
      "strokeWidth":{"signal":"datum.value === 'OBSERVATIONS' ? 0 : 2"},
      "opacity":{"value":1}}},
     "labels":{"update":{"lineHeight":{"value":21}}}}}}
 }},
{"data":{"name":"obs"},
 "mark":{"type":"point","filled":true,"size":22,"opacity":1},
 "encoding":{
  "x":{"field":"t","type":"temporal",
   "axis":{"orient":"bottom","title":null,"labels":false,"domain":false,"grid":false,"ticks":true,"tickSize":5,"tickColor":"#bfbfbf",
    "values":[{"year":2013,"month":12,"date":20,"hours":12},{"year":2013,"month":12,"date":21,"hours":12},{"year":2013,"month":12,"date":22,"hours":12},{"year":2013,"month":12,"date":23,"hours":12},{"year":2013,"month":12,"date":24,"hours":12},{"year":2013,"month":12,"date":25,"hours":12},{"year":2013,"month":12,"date":26,"hours":12},{"year":2013,"month":12,"date":27,"hours":12},{"year":2013,"month":12,"date":28,"hours":12},{"year":2013,"month":12,"date":29,"hours":12},{"year":2013,"month":12,"date":30,"hours":12},{"year":2013,"month":12,"date":31,"hours":12},{"year":2014,"month":1,"date":1,"hours":12},{"year":2014,"month":1,"date":2,"hours":12},{"year":2014,"month":1,"date":3,"hours":12},{"year":2014,"month":1,"date":4,"hours":12},{"year":2014,"month":1,"date":5,"hours":12},{"year":2014,"month":1,"date":6,"hours":0}]}},
  "y":{"field":"v","type":"quantitative","axis":null},
  "color":{"datum":"OBSERVATIONS"}}},
{"data":{"name":"shade"},
 "mark":{"type":"rect","color":"#a6a6a6","opacity":0.84},
 "encoding":{
  "x":{"field":"s","type":"temporal","axis":null},
  "x2":{"field":"e"},
  "y":{"datum":0,"axis":null},
  "y2":{"datum":172}}},
{"data":{"name":"wk"},
 "mark":{"type":"rule","strokeWidth":3},
 "encoding":{
  "x":{"field":"s","type":"temporal","axis":null},
  "x2":{"field":"e"},
  "y":{"datum":178.5,"axis":null},
  "color":{"datum":"Weekends/ Holidays"}}},
{"data":{"name":"tmin"},
 "mark":{"type":"rule","strokeWidth":3},
 "encoding":{
  "x":{"field":"s","type":"temporal","axis":null},
  "x2":{"field":"e"},
  "y":{"datum":181,"axis":null},
  "color":{"datum":"Tmin < 10 C"}}}
],
"config":{"view":{"fill":"white","stroke":null},"font":"Liberation Serif"}
}
